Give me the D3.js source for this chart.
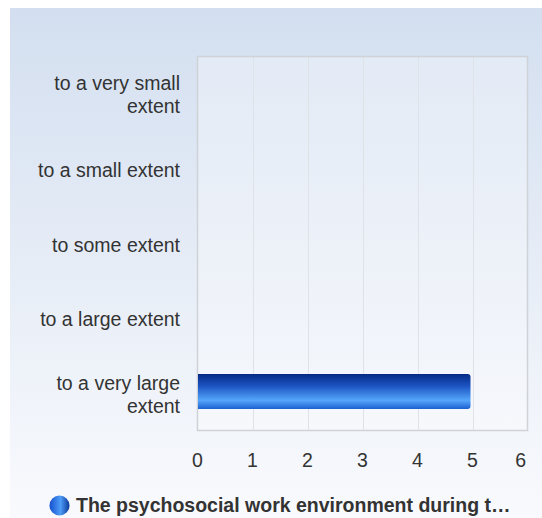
<!DOCTYPE html>
<html>
<head>
<script src="https://d3js.org/d3.v7.min.js"></script>
<style>
  body { margin: 0; background: #ffffff; font-family: "Liberation Sans", Arial, sans-serif; }
</style>
</head>
<body>
<div id="chart"></div>
<script>
  // chart data
  var categories = ["to a very small extent", "to a small extent", "to some extent", "to a large extent", "to a very large extent"];
  var values = [0, 0, 0, 0, 5];
  var xTicks = [0, 1, 2, 3, 4, 5, 6];
  var seriesName = "The psychosocial work environment during t\u2026";

  var width = 542, height = 518;
  var plot = { left: 197.5, top: 56.5, right: 527.5, bottom: 430.5 };
  var fs = '19.5px';

  var svg = d3.select('#chart').append('svg')
      .attr('width', width)
      .attr('height', height);

  var defs = svg.append('defs');
  var bg = defs.append('linearGradient').attr('id', 'bg').attr('x1', 0).attr('y1', 0).attr('x2', 0).attr('y2', 1);
  bg.append('stop').attr('offset', '0%').attr('stop-color', '#d3dff0');
  bg.append('stop').attr('offset', '100%').attr('stop-color', '#f9fafd');

  var barGrad = defs.append('linearGradient').attr('id', 'bar').attr('x1', 0).attr('y1', 0).attr('x2', 0).attr('y2', 1);
  barGrad.append('stop').attr('offset', '0%').attr('stop-color', '#062a85');
  barGrad.append('stop').attr('offset', '35%').attr('stop-color', '#1d55c4');
  barGrad.append('stop').attr('offset', '75%').attr('stop-color', '#55a6fb');
  barGrad.append('stop').attr('offset', '100%').attr('stop-color', '#1a5fd0');

  var dotGrad = defs.append('linearGradient').attr('id', 'dot').attr('x1', 0).attr('y1', 0).attr('x2', 1).attr('y2', 0);
  dotGrad.append('stop').attr('offset', '0%').attr('stop-color', '#1550d0');
  dotGrad.append('stop').attr('offset', '55%').attr('stop-color', '#4d9cf5');
  dotGrad.append('stop').attr('offset', '100%').attr('stop-color', '#0a3a9c');

  // page background
  svg.append('rect')
      .attr('x', 10).attr('y', 8)
      .attr('width', width - 10).attr('height', height - 8)
      .attr('fill', 'url(#bg)');

  var x = d3.scaleLinear().domain([0, 6]).range([plot.left, plot.right]);
  var y = d3.scaleBand().domain(categories).range([plot.top, plot.bottom]);

  // plot area
  svg.append('rect')
      .attr('x', plot.left).attr('y', plot.top)
      .attr('width', plot.right - plot.left).attr('height', plot.bottom - plot.top)
      .attr('fill', 'rgba(255,255,255,0.3)');

  // grid lines
  svg.append('g').selectAll('line')
      .data(xTicks.slice(1, -1))
      .enter().append('line')
      .attr('x1', function(d) { return Math.round(x(d)) + 0.5; })
      .attr('x2', function(d) { return Math.round(x(d)) + 0.5; })
      .attr('y1', plot.top).attr('y2', plot.bottom)
      .attr('stroke', '#dfe2e6').attr('stroke-width', 1);

  svg.append('rect')
      .attr('x', plot.left).attr('y', plot.top)
      .attr('width', plot.right - plot.left).attr('height', plot.bottom - plot.top)
      .attr('fill', 'none').attr('stroke', '#cfd2d6').attr('stroke-width', 1.5);

  // bars
  var barH = 35;
  svg.append('g').selectAll('path')
      .data(values.map(function(v, i) { return { cat: categories[i], v: v }; }).filter(function(d) { return d.v > 0; }))
      .enter().append('path')
      .attr('d', function(d) {
        var x0 = x(0) + 0.5, x1 = x(d.v) - 2, r = 3;
        var y0 = y(d.cat) + y.bandwidth() / 2 - barH / 2 - 1.5, y1 = y0 + barH;
        return 'M' + x0 + ',' + y0 + 'H' + (x1 - r) + 'Q' + x1 + ',' + y0 + ' ' + x1 + ',' + (y0 + r) +
               'V' + (y1 - r) + 'Q' + x1 + ',' + y1 + ' ' + (x1 - r) + ',' + y1 + 'H' + x0 + 'Z';
      })
      .attr('fill', 'url(#bar)');

  // x axis labels (last one kept inside the plot edge)
  svg.append('g').selectAll('text')
      .data(xTicks)
      .enter().append('text')
      .attr('x', function(d, i) { return i === xTicks.length - 1 ? x(d) - 1.5 : x(d); })
      .attr('y', 467)
      .attr('text-anchor', function(d, i) { return i === xTicks.length - 1 ? 'end' : 'middle'; })
      .attr('font-size', fs)
      .attr('fill', '#333333')
      .text(function(d) { return d; });

  // category labels (wrapped like the original)
  var wrapped = {
    "to a very small extent": ["to a very small", "extent"],
    "to a very large extent": ["to a very large", "extent"]
  };
  var catG = svg.append('g').selectAll('text')
      .data(categories)
      .enter().append('text')
      .attr('text-anchor', 'end')
      .attr('font-size', fs)
      .attr('fill', '#333333');
  catG.each(function(d) {
    var lines = wrapped[d] || [d];
    var cy = y(d) + y.bandwidth() / 2;
    var t = d3.select(this);
    lines.forEach(function(l, i) {
      t.append('tspan')
          .attr('x', 180)
          .attr('y', cy + 8 + (i - (lines.length - 1) / 2) * 23)
          .text(l);
    });
  });

  // legend
  svg.append('circle')
      .attr('cx', 59.5).attr('cy', 505.5).attr('r', 10)
      .attr('fill', 'url(#dot)');
  svg.append('text')
      .attr('x', 76).attr('y', 512)
      .attr('font-size', fs)
      .attr('font-weight', 'bold')
      .attr('fill', '#333333')
      .text(seriesName);
</script>
</body>
</html>
